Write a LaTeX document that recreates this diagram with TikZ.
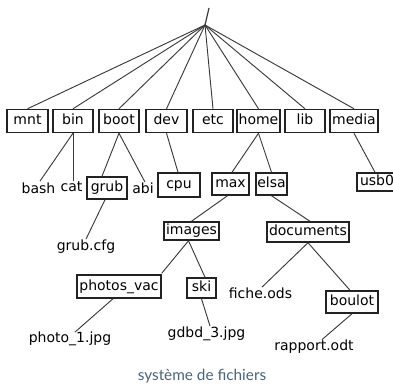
\documentclass[tikz,border=0pt]{standalone}
\usepackage{fontspec}
\setmainfont{DejaVu Sans}
\newfontfamily\capfont{Lato}
\usetikzlibrary{calc}
\definecolor{boxline}{HTML}{222222}
\definecolor{conline}{HTML}{3A3A3A}
\definecolor{capcol}{HTML}{46647A}
\begin{document}
\begin{tikzpicture}[x=0.75pt,y=-0.75pt,
  font=\fontsize{10.5pt}{12pt}\selectfont,
  box/.style={draw=boxline,line width=1.1pt,inner sep=0pt,text height=8pt,text depth=2.2pt,fill=white},
  leaf/.style={inner sep=0pt,anchor=base},
  con/.style={draw=conline,line width=0.7pt}]
\useasboundingbox (0,0) rectangle (393,385);
\clip (0,0) rectangle (393,385);
% root
\coordinate (root) at (205,25);
\draw[con,line width=0.9pt] (root) -- (209,8);
% top row
\node[box,minimum width=30.75pt,minimum height=17.25pt] (mnt) at (27.5,121) {mnt};
\node[box,minimum width=30pt,minimum height=17.25pt] (bin) at (73,121) {bin};
\node[box,minimum width=30pt,minimum height=17.25pt] (boot) at (119,121) {boot};
\node[box,minimum width=30.75pt,minimum height=17.25pt] (dev) at (166.5,121) {dev};
\node[box,minimum width=30pt,minimum height=17.25pt] (etc) at (213,121) {etc};
\node[box,minimum width=32.25pt,minimum height=17.25pt] (home) at (258.5,121) {home};
\node[box,minimum width=30pt,minimum height=17.25pt] (lib) at (305,121) {lib};
\node[box,minimum width=36pt,minimum height=17.25pt] (media) at (354,121) {media};
\foreach \n in {mnt,bin,boot,dev,etc,home,lib,media}{\draw[con] (root) -- (\n.north);}
% second row
\node[leaf] (bash) at (38.5,193) {bash};
\node[leaf] (cat) at (71.5,191) {cat};
\node[box,minimum width=30pt,minimum height=16.5pt] (grub) at (107,188) {grub};
\node[leaf] (abi) at (143,193) {abi};
\node[box,minimum width=31.5pt,minimum height=18pt] (cpu) at (179,185) {cpu};
\node[box,minimum width=27.75pt,minimum height=16.5pt] (max) at (230.5,184) {max};
\node[box,minimum width=23.25pt,minimum height=16.5pt] (elsa) at (271.5,184) {elsa};
\node[box,minimum width=30pt,minimum height=13.5pt] (usb0) at (377,182) {usb0};
\draw[con] (bin.south) -- ($(bash.north)+(1.5,-1)$);
\draw[con] (bin.south) -- (bin.south |- cat.north);
\draw[con] (boot.south) -- ($(grub.north)+(-5,0)$);
\draw[con] (boot.south) -- ($(abi.north)+(2,0)$);
\draw[con] (dev.south) -- ($(cpu.north)+(-1,0)$);
\draw[con] (home.south) -- ($(max.north)+(1.5,0)$);
\draw[con] (home.south) -- (elsa.north);
\draw[con] (media.south) -- ($(usb0.north)+(-2,0)$);
% third row
\node[leaf] (grubcfg) at (86,250) {grub.cfg};
\node[box,minimum width=41.25pt,minimum height=13.5pt] (images) at (191.5,231) {images};
\node[box,minimum width=61.5pt,minimum height=15pt] (documents) at (308,232) {documents};
\draw[con] ($(grub.south)+(-2,0)$) -- (grubcfg.north);
\draw[con] ($(max.south)+(-3,0)$) -- (images.north);
\draw[con] (elsa.south) -- ($(documents.north)+(2,0)$);
% fourth row
\node[box,minimum width=63pt,minimum height=17.25pt] (photos) at (119,286.5) {photos\_vac};
\node[box,minimum width=21.75pt,minimum height=15pt] (ski) at (201.5,288) {ski};
\node[leaf] (fiche) at (260.5,298) {fiche.ods};
\node[box,minimum width=39pt,minimum height=16.5pt] (boulot) at (352,302) {boulot};
\draw[con] ($(images.south)+(-3,0)$) -- ($(photos.north east)+(0,-1)$);
\draw[con] ($(images.south)+(-3,0)$) -- ($(ski.north)+(3.5,0)$);
\draw[con] (documents.south) -- ($(fiche.north)+(1.5,0)$);
\draw[con] (documents.south) -- ($(boulot.north)+(-2,0)$);
% fifth row
\node[leaf] (photo1) at (70,342) {photo\_1.jpg};
\node[leaf] (gdbd) at (206.5,337) {gdbd\_3.jpg};
\node[leaf] (rapport) at (314,350.5) {rapport.odt};
\draw[con] ($(photos.south)+(-6,0)$) -- ($(photo1.north)+(5,1)$);
\draw[con] (ski.south) -- ($(gdbd.north)+(3.5,0)$);
\draw[con] (boulot.south) -- ($(rapport.north)+(8,0)$);
% caption
\node[inner sep=0pt,anchor=base,text=capcol,font=\capfont\fontsize{11.5pt}{13pt}\selectfont] (caption) at (202,380.5) {système de fichiers};
\end{tikzpicture}
\end{document}
